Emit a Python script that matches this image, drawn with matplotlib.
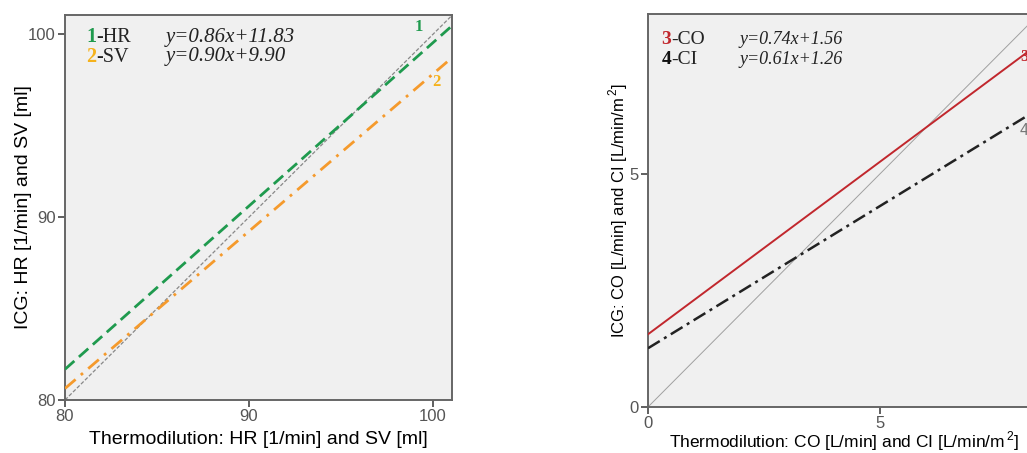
import matplotlib
matplotlib.use('Agg')
import matplotlib.pyplot as plt
import numpy as np

plt.rcParams['font.family'] = ['Liberation Sans', 'DejaVu Sans']
plt.rcParams['mathtext.fontset'] = 'custom'
plt.rcParams['mathtext.rm'] = 'Liberation Sans'

# ---------------- data ----------------
left_ticks = [80, 90, 100]
left_xlim = (80, 101.03)
left_ylim = (80, 101.05)
# lines as drawn (slope, intercept)
green_line = (0.893, 10.24)
orange_line = (0.86, 11.83)
left_names = ['HR', 'SV']
left_nums = ['1', '2']
left_eqs = ['y=0.86x+11.83', 'y=0.90x+9.90']

right_ticks = [0, 5]
right_xlim = (0, 8.45)
right_ylim = (0, 8.43)
red_line = (0.74, 1.56)
black_line = (0.61, 1.26)
right_names = ['CO', 'CI']
right_nums = ['3', '4']
right_eqs = ['y=0.74x+1.56', 'y=0.61x+1.26']

W, H = 1027, 453
fig = plt.figure(figsize=(W / 100, H / 100), dpi=100)

FRAME = '#666666'
TICKC = '#555555'
BG = '#f0f0f0'


def px_axes(l, t, r, b):
    return fig.add_axes([l / W, (H - b) / H, (r - l) / W, (b - t) / H])


def style(ax, ticks, xlim, ylim):
    ax.set_facecolor(BG)
    ax.set_xlim(*xlim)
    ax.set_ylim(*ylim)
    ax.set_xticks(ticks)
    ax.set_yticks(ticks)
    for s in ax.spines.values():
        s.set_color(FRAME)
        s.set_linewidth(1.4)
    ax.tick_params(direction='out', length=5, width=1.2, color='#444444',
                   labelcolor=TICKC, labelsize=12, pad=1.5)


# ---------------- left panel ----------------
axL = px_axes(65, 15, 452, 400)
style(axL, left_ticks, left_xlim, left_ylim)
xs = np.array(left_xlim)
axL.plot(xs, xs, color='#888888', lw=0.9, ls=(0, (3, 1.5)), zorder=2)
axL.plot(xs, green_line[0] * xs + green_line[1], color='#1f9a4e', lw=2.0,
         ls=(0, (4.5, 2.2)), zorder=3)
axL.plot(xs, orange_line[0] * xs + orange_line[1], color='#f59a2c', lw=2.0,
         ls=(0, (5, 2.5, 1, 2.5)), zorder=3)
axL.text(99.2, 100.4, '1', color='#1f9a4e', family='Liberation Serif',
         fontsize=12, fontweight='bold', ha='center', va='center')
axL.text(100.2, 97.4, '2', color='#f5b21c', family='Liberation Serif',
         fontsize=12, fontweight='bold', ha='center', va='center')
axL.set_xlabel('Thermodilution: HR [1/min] and SV [ml]', fontsize=14,
               va='center')
axL.xaxis.set_label_coords(0.5, (400 - 440) / 385)
axL.set_ylabel('ICG: HR [1/min] and SV [ml]', fontsize=14, va='center')
axL.yaxis.set_label_coords((24 - 65) / 387, 0.5)

# ---------------- right panel ----------------
axR = px_axes(648, 14, 1040, 407)
style(axR, right_ticks, right_xlim, right_ylim)
xs2 = np.array(right_xlim)
axR.plot(xs2, xs2, color='#a0a0a0', lw=0.7, zorder=2)
axR.plot(xs2, red_line[0] * xs2 + red_line[1], color='#c1272d', lw=1.4,
         zorder=3)
axR.plot(xs2, black_line[0] * xs2 + black_line[1], color='#222222', lw=1.8,
         ls=(0, (5.5, 2, 1.2, 2)), zorder=3)
axR.text(8.12, 7.5, '3', color='#c1272d', family='Liberation Serif',
         fontsize=12, fontweight='bold', ha='center', va='center')
axR.text(8.1, 5.94, '4', color='#777777', family='Liberation Sans',
         fontsize=11.5, ha='center', va='center')
axR.set_xlabel('Thermodilution: CO [L/min] and CI [L/min/m$^{\\,2}$]',
               fontsize=12.5, va='center')
axR.xaxis.set_label_coords(0.5, (407 - 441) / 393)
axR.set_ylabel('ICG: CO [L/min] and CI [L/min/m$^{\\,2}$]', fontsize=12,
               va='center')
axR.yaxis.set_label_coords((618 - 648) / 392, 0.5)


# ---------------- legend texts ----------------
def legend(ax, x0, xeq, ys, nums, names, eqs, numcolors, fs, fseq):
    fig.canvas.draw()
    r = fig.canvas.get_renderer()
    for y, n, nm, eq, c in zip(ys, nums, names, eqs, numcolors):
        t = ax.text(x0, y, n, transform=ax.transAxes, color=c,
                    family='Liberation Serif', fontsize=fs, fontweight='bold',
                    ha='left', va='center')
        bb = t.get_window_extent(renderer=r)
        xa = ax.transAxes.inverted().transform((bb.x1, 0))[0]
        ax.text(xa, y, '-' + nm, transform=ax.transAxes, color='#222222',
                family='Liberation Serif', fontsize=fs, ha='left', va='center')
        ax.text(xeq, y, eq, transform=ax.transAxes, color='#222222',
                family='Liberation Serif', fontsize=fseq, style='italic',
                ha='left', va='center')


legend(axL, (86.5 - 65) / 387, (166 - 65) / 387,
       [(400 - 37.5) / 385, (400 - 57) / 385], left_nums, left_names,
       left_eqs, ['#1f9a4e', '#f5b21c'], 14.5, 15)
legend(axR, (661.5 - 648) / 392, (740 - 648) / 392,
       [(407 - 39) / 393, (407 - 59) / 393], right_nums, right_names,
       right_eqs, ['#c1272d', '#111111'], 14, 13)

fig.savefig('out.png', dpi=100, facecolor='white')
